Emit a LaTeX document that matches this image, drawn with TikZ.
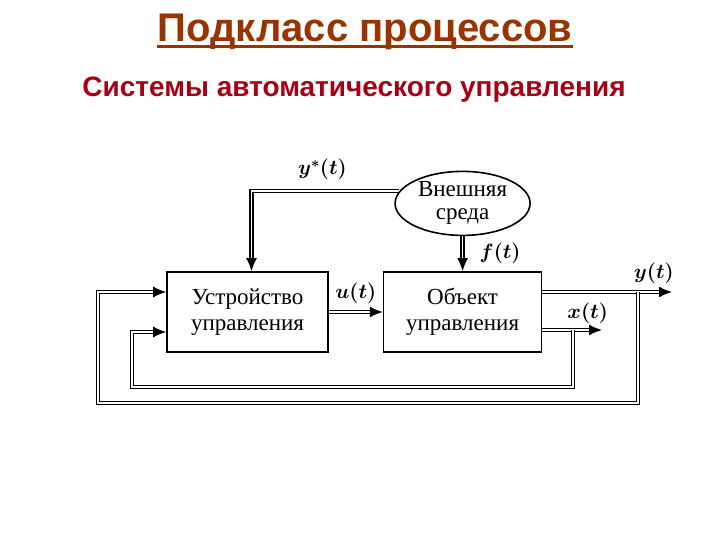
\documentclass[tikz,border=0pt]{standalone}
\usepackage{fontspec}
\setmainfont{Liberation Serif}
\newfontfamily\headfont{Liberation Sans}
\usepackage{xcolor}
\usetikzlibrary{arrows.meta,positioning,shapes.geometric}

\definecolor{titlebrown}{RGB}{153,51,0}
\definecolor{subred}{RGB}{165,0,20}

\begin{document}
\begin{tikzpicture}[
  x=1pt, y=1pt,
  box/.style={draw, line width=1.6pt, align=center, inner sep=0pt, minimum width=161pt, minimum height=80pt,
    font=\fontsize{23}{26}\selectfont},
  env/.style={draw, ellipse, line width=1.6pt, align=center, inner sep=0pt, minimum width=135pt, minimum height=64pt,
    font=\fontsize{23}{23}\selectfont},
  link/.style={double, line width=1.6pt, double distance=1.4pt},
  arr/.style={link, -{Latex[length=13pt,width=11pt]}},
  lbl/.style={font=\boldmath\fontsize{21}{21}\selectfont}
]
\useasboundingbox (0,0) rectangle (720,540);
% headings
\node[font=\headfont\bfseries\fontsize{40}{40}\selectfont, text=titlebrown, anchor=base, inner sep=0pt] (title) at (365,498) {Подкласс процессов};
\draw[titlebrown, line width=3pt] ([yshift=-5pt]title.base west) -- ([yshift=-5pt]title.base east);
\node[font=\headfont\bfseries\fontsize{28}{28}\selectfont, text=subred, anchor=base, inner sep=0pt] (sub) at (354,443) {Системы автоматического управления};
% blocks
\node[box] (ctrl) at (247.5,228) {Устройство\\управления};
\node[box, minimum width=158pt, right=54pt of ctrl] (obj) {Объект\\управления};
\node[env, above=35pt of obj] (env) {Внешняя\\среда};
% free ends and taps
\coordinate (yend) at (672,248);
\coordinate (xend) at (602,210);
\coordinate (ytap) at (638,248);
\coordinate (xtap) at (573,210);
% signals
\draw[arr] (env.169) -| node[pos=0.26, above=7pt, lbl] {$y^{*}(t)$} ([xshift=4pt]ctrl.north);
\draw[arr] (env) -- node[right=13pt, lbl] {$f(t)$} (obj);
\draw[arr] (ctrl) -- node[above=4pt, lbl] {$u(t)$} (obj);
\draw[arr] ([yshift=20pt]obj.east) -- node[pos=0.86, above=4pt, lbl] {$y(t)$} (yend);
\draw[arr] ([yshift=-18pt]obj.east) -- node[pos=0.76, above=2pt, lbl] {$x(t)$} (xend);
% feedback
\draw[arr] (xtap) |- (132,153) |- ([yshift=-20pt]ctrl.west);
\draw[arr] (ytap) |- (98,137) |- ([yshift=20pt]ctrl.west);
\end{tikzpicture}
\end{document}
